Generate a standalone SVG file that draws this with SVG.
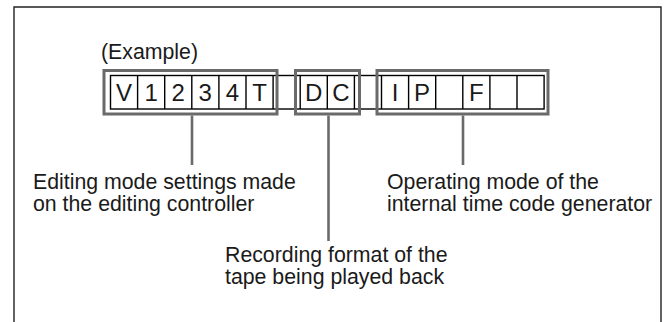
<svg xmlns="http://www.w3.org/2000/svg" width="666" height="322" viewBox="0 0 666 322">
<style>
.t{font-family:"Liberation Sans",Arial,sans-serif;font-size:21.3px;fill:#1a1a1a}
.c{font-family:"Liberation Sans",Arial,sans-serif;font-size:24px;fill:#1a1a1a;text-anchor:middle}
.cell{fill:#fff;stroke:#000;stroke-width:1.4}
.grp{fill:none;stroke:#6a6a6a;stroke-width:3}
.con{stroke:#6a6a6a;stroke-width:2.6;fill:none}
</style>
<rect width="666" height="322" fill="#fff"/>
<path d="M14,330 V7 H661 V330" fill="none" stroke="#222" stroke-width="1.4"/>
<text class="t" x="101" y="59">(Example)</text>
<g id="cells">
<rect class="cell" x="110.5" y="75.5" width="433.6" height="33.5"/>
<path d="M137.6,75.5V109 M164.7,75.5V109 M191.8,75.5V109 M218.9,75.5V109 M246,75.5V109 M273.1,75.5V109 M300.2,75.5V109 M327.3,75.5V109 M354.4,75.5V109 M381.5,75.5V109 M408.6,75.5V109 M435.7,75.5V109 M462.8,75.5V109 M489.9,75.5V109 M517,75.5V109" stroke="#000" stroke-width="1.4"/>
<text class="c" x="124" y="101">V</text>
<text class="c" x="151.1" y="101">1</text>
<text class="c" x="178.2" y="101">2</text>
<text class="c" x="205.3" y="101">3</text>
<text class="c" x="232.4" y="101">4</text>
<text class="c" x="259.5" y="101">T</text>
<text class="c" x="313.7" y="101">D</text>
<text class="c" x="340.8" y="101">C</text>
<text class="c" x="395" y="101">I</text>
<text class="c" x="422.1" y="101">P</text>
<text class="c" x="476.3" y="101">F</text>
</g>
<g id="group-editing"><rect class="grp" x="104" y="70.5" width="173" height="43.5"/></g>
<g id="group-format"><rect class="grp" x="295.5" y="70.5" width="64" height="43.5"/></g>
<g id="group-tc"><rect class="grp" x="377" y="70.5" width="171" height="43.5"/></g>
<g id="connectors">
<path class="con" d="M192,115.5V165"/>
<path class="con" d="M328.5,115.5V241"/>
<path class="con" d="M463,115.5V165"/>
</g>
<g id="label-editing">
<text class="t" x="33" y="189">Editing mode settings made</text>
<text class="t" x="33" y="211">on the editing controller</text>
</g>
<g id="label-tc">
<text class="t" x="387" y="189">Operating mode of the</text>
<text class="t" x="387" y="211">internal time code generator</text>
</g>
<g id="label-format">
<text class="t" x="225" y="262">Recording format of the</text>
<text class="t" x="225" y="284">tape being played back</text>
</g>
</svg>
